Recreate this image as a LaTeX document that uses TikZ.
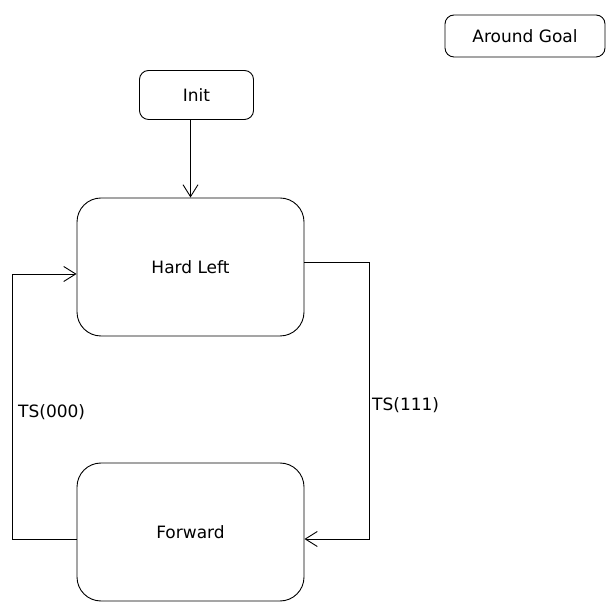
\documentclass[tikz,border=0pt]{standalone}
\usepackage{fontspec}
\setmainfont{DejaVu Sans}
\usetikzlibrary{arrows.meta}

\begin{document}
\begin{tikzpicture}[
    x=1pt,
    y=1pt,
    state/.style={draw, line width=0.9pt, rounded corners=#1, align=center,
                  font=\fontsize{17}{20}\selectfont, inner sep=0pt},
    state/.default=9pt,
    transition/.style={line width=0.9pt, -{Straight Barb[length=12pt,width=15pt]}},
    guard/.style={font=\fontsize{17}{20}\selectfont, anchor=west, inner sep=0pt}
]

% =========================================================
% AREA
% =========================================================

\useasboundingbox (0,0) rectangle (607,602);

% Larghezza/altezza degli stati grandi
\def\bigw{227}
\def\bigh{138}

% =========================================================
% STATI
% =========================================================

\node[state, minimum width=160, minimum height=42]
    (goal) at (525,566) {Around Goal};

\node[state, minimum width=114, minimum height=49]
    (init) at (196.5,507) {Init};

\node[state=24pt, minimum width=\bigw, minimum height=\bigh]
    (hardleft) at (190.5,335) {Hard Left};

\node[state=24pt, minimum width=\bigw, minimum height=\bigh]
    (forward) at (190.5,70) {Forward};

% =========================================================
% TRANSIZIONI
% =========================================================

% Init -> Hard Left
\draw[transition] (init.south -| hardleft.north) -- (hardleft.north);

% Forward -> Hard Left
\draw[transition]
([yshift=-7pt]forward.west) -- ++(-64,0) |- ([yshift=-7pt]hardleft.west);
\node[guard] (g000) at (18,190) {TS(000)};

% Hard Left -> Forward
\draw[transition]
([yshift=5pt]hardleft.east) -- ++(65,0) |- ([yshift=-7pt]forward.east);
\node[guard] (g111) at (372,197) {TS(111)};

\end{tikzpicture}
\end{document}
